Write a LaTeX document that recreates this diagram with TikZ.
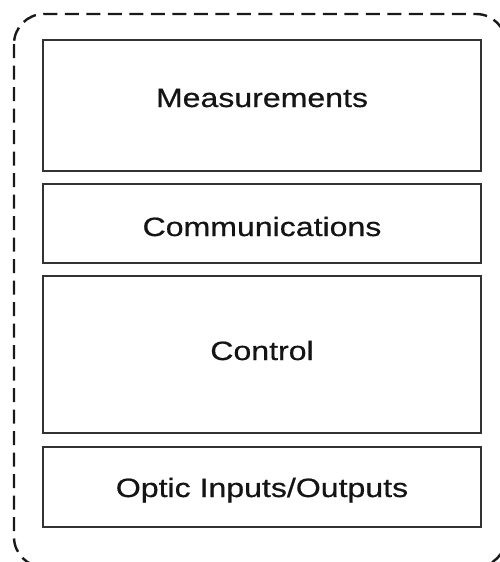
\documentclass[tikz,border=0pt]{standalone}
\usepackage{fontspec}
\newfontfamily\layerfont[FakeStretch=1.21,FakeBold=0.6]{Liberation Sans}
\begin{document}
\begin{tikzpicture}[x=1pt,y=-1pt,
  layer/.style={draw=black!80, line width=1.3pt},
  layertext/.style={anchor=base, text=black!92, inner sep=0pt,
    font=\layerfont\fontsize{26.5}{30}\selectfont},
  frame/.style={draw=black!90, line width=2.4pt, rounded corners=30pt,
    dash pattern=on 14pt off 7.5pt}]
  \useasboundingbox (0,0) rectangle (500,562);
  \begin{scope}
    \clip (0,0) rectangle (500,562);
    \draw[frame] (14,14) rectangle (506,567);
  \end{scope}

  % stacked layers
  \draw[layer] (43,40)  rectangle (481,171);
  \draw[layer] (43,184) rectangle (481,263);
  \draw[layer] (43,276) rectangle (481,433);
  \draw[layer] (43,447) rectangle (481,527);

  \node[layertext] (meas) at (262,107) {Measurements};
  \node[layertext] (comm) at (262,236) {Communications};
  \node[layertext] (ctrl) at (262,360) {Control};
  \node[layertext] (optic) at (262,497) {Optic Inputs/Outputs};
\end{tikzpicture}
\end{document}
